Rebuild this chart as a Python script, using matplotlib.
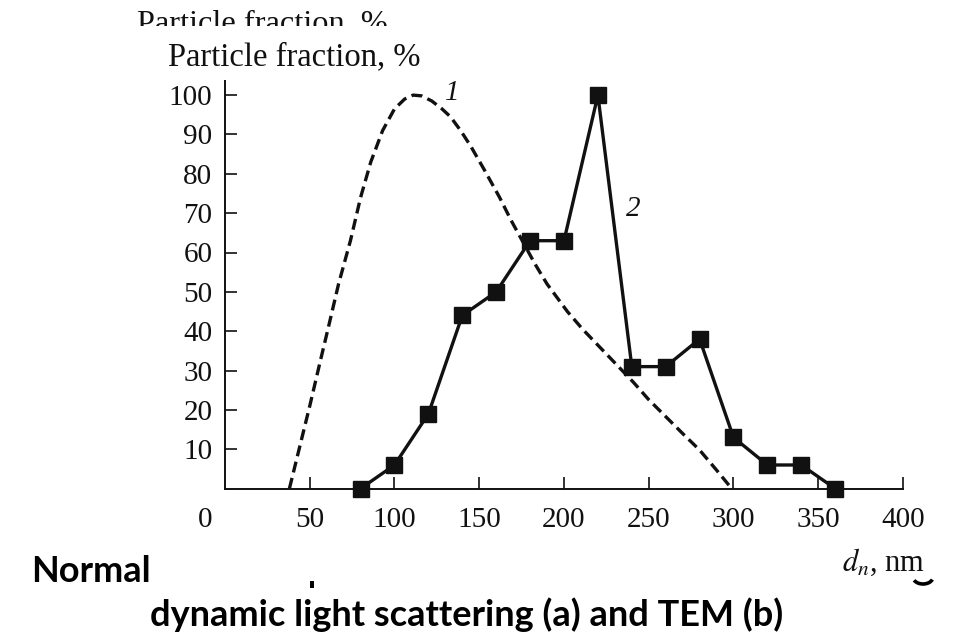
import matplotlib
matplotlib.use("Agg")
import matplotlib.pyplot as plt
from matplotlib.patches import Rectangle, Arc
from matplotlib.transforms import ScaledTranslation, IdentityTransform

# ---- data ----
# curve 1 (dashed, dynamic light scattering)
dls_x = [38, 44, 50, 56, 61, 67, 74, 80, 86, 93, 100, 106, 111, 116, 122, 128, 133, 139,
         145, 153, 162, 169, 176, 183, 190, 202, 211, 221, 231, 241, 250, 260, 270, 280,
         290, 298, 300]
dls_y = [0, 10.5, 21, 32, 41, 52, 63, 74, 83, 91, 96.5, 99, 100, 99.8, 98.5, 96.5, 94.5, 91,
         87, 81, 74, 68, 62.5, 57, 52, 45, 40.5, 36, 31.5, 27, 22.6, 18.3, 14, 9.8,
         4.7, 0.5, 0]
# curve 2 (squares, TEM)
tem_x = [80, 100, 120, 140, 160, 180, 200, 220, 240, 260, 280, 300, 320, 340, 360]
tem_y = [0, 6, 19, 44, 50, 63, 63, 100, 31, 31, 38, 13, 6, 6, 0]
x_ticks = [50, 100, 150, 200, 250, 300, 350, 400]
y_ticks = [10, 20, 30, 40, 50, 60, 70, 80, 90, 100]
ylabel = "Particle fraction, %"
xlabel = r"$d_n$, nm"
caption1 = "Normal"
caption2 = "dynamic light scattering (a) and TEM (b)"

W, H = 954, 633
fig = plt.figure(figsize=(W / 100, H / 100), dpi=100)
plt.rcParams['mathtext.fontset'] = 'stix'
serif = 'Liberation Serif'
ink = '#111111'

def fx(px):
    return px / W

def fy(py):
    return 1 - py / H

# axes placement
x0, x1 = 225, 903
y0, ytop = 488.6, 74
ax = fig.add_axes([fx(x0), fy(y0), (x1 - x0) / W, (y0 - ytop) / H])
ax.set_xlim(0, 400)
ax.set_ylim(0, (y0 - ytop) / 3.935)

for s in ['top', 'right']:
    ax.spines[s].set_visible(False)
for s in ['left', 'bottom']:
    ax.spines[s].set_linewidth(1.4)
    ax.spines[s].set_color(ink)

ax.set_xticks(x_ticks)
ax.set_xticklabels([str(v) for v in x_ticks])
ax.set_yticks(y_ticks)
ax.set_yticklabels([str(v) for v in y_ticks])
ax.tick_params(axis='both', direction='in', length=8.6, width=1.2, color=ink,
               labelsize=21, labelcolor=ink)
ax.tick_params(axis='x', pad=13)
ax.tick_params(axis='y', pad=9)
for lab in ax.get_xticklabels() + ax.get_yticklabels():
    lab.set_fontfamily(serif)

# origin label "0"
ax.text(-11.8, 0, "0", fontsize=21, family=serif, color=ink, ha='center', va='top',
        transform=ax.transData + ScaledTranslation(0, -13 / 72, fig.dpi_scale_trans))

# curves
ax.plot(dls_x, dls_y, color=ink, lw=2.4, linestyle=(0, (3.3, 1.7)), clip_on=False)
ax.plot(tem_x, tem_y, color=ink, lw=2.4, marker='s', markersize=11.5, clip_on=False, zorder=3)

# curve labels
ax.text(134, 100.5, "1", fontsize=21, family=serif, style='italic', color=ink,
        ha='center', va='center')
ax.text(241, 71, "2", fontsize=21, family=serif, style='italic', color=ink,
        ha='center', va='center')

# y label
fig.text(fx(168), fy(65), ylabel, fontsize=23.5, family=serif, color=ink,
         ha='left', va='baseline')

# clipped duplicate label at very top
fig.text(fx(137), fy(32), ylabel, fontsize=23.3, family=serif, color=ink,
         ha='left', va='baseline', zorder=1)
fig.patches.append(Rectangle((fx(130), fy(80)), fx(300), (80 - 26) / H,
                             transform=fig.transFigure, facecolor='white',
                             edgecolor='none', zorder=2))

# x label
fig.text(fx(925), fy(571), xlabel, fontsize=22, family=serif, color=ink,
         ha='right', va='baseline')

# caption
fig.text(fx(31), fy(582), caption1, fontsize=26, family='Lato', weight='bold',
         color='black', ha='left', va='baseline')
fig.text(fx(467), fy(626), caption2, fontsize=26, family='Lato', weight='bold',
         color='black', ha='center', va='baseline')

# small fragments of the hidden caption below the pasted chart
fig.patches.append(Rectangle((fx(310), fy(588)), 4 / W, 7 / H,
                             transform=fig.transFigure, facecolor='black',
                             edgecolor='none'))
fig.patches.append(Arc((923, H - 577), 20, 14, theta1=200, theta2=345,
                       transform=IdentityTransform(), color='black', lw=2.6))

fig.savefig("out.png", dpi=100)
